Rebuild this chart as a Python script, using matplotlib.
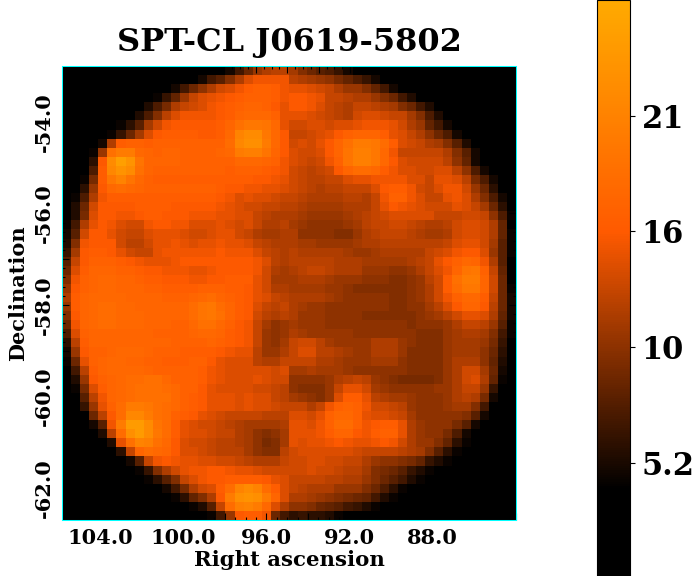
# temperature map of one cluster field with a hand built colormap

import matplotlib
matplotlib.use("Agg")
import matplotlib.pyplot as plt
from matplotlib.colors import LinearSegmentedColormap
import numpy as np

plt.rcParams["font.family"] = ["DejaVu Serif"]
plt.rcParams["font.weight"] = "bold"

title = "SPT-CL J0619-5802"
ra_ticks = [104.0, 100.0, 96.0, 92.0, 88.0]
dec_ticks = [-54.0, -56.0, -58.0, -60.0, -62.0]
cbar_ticks = [5.2, 10.4, 15.6, 20.8]
cbar_labels = ["5.2", "10", "16", "21"]
vmin, vmax = 0.1, 26.0

# first filled column of each row, the rest of the row stays at zero
row_start = [18, 15, 12, 10, 9, 8, 6, 5, 4, 3, 3, 3, 2, 2, 1, 1, 1, 0, 0, 0, 0, 0, 0, 0, 0,
             0, 0, 0, 0, 0, 0, 0, 0, 1, 1, 1, 2, 2, 3, 3, 4, 5, 6, 7, 8, 9, 11, 12, 14, 16]

row_values = [
    [5,7,9,11,12,12.5,12.5,11.5, 10,9,8,7.5,6.5,5],
    [5,7,8,10,12,14,15,15,15,15, 12.5,12,11.5,11,10.5,9.5,8.5,7.5,6.5,5],
    [5,7,9,10.5,12,13.5,14,15,16,16.5,16.5,16,15, 14.5,14.5,14,13.5,13,12,11,11,10,8.5,7,5],
    [4.5,6.5,8.5,11,13,14,14.5,15,15.5,16,16.5,16.5,16.5,16,15, 15.5,15.5,15,14.5,13,13,12.5,12,12,11,10,9,7,5.5],
    [5.5,7.5,9.5,12,13,13.5,14,15,15.5,16,16.5,17,17,16.5,15.5,14.5, 15.5,15.5,15,14,13,12.5,12,13,13,12.5,12,11.5,10,9,7,5.5],
    [5.5,7.5,10,12.5,14,15,15,15,15,15.5,16,17,17.5,17.5,17.5,16.5,14.5, 14.5,14.5,14,13.5,13,12.5,12,13.5,14,14,13.5,13,13,11.5,10,7.5,5.5],
    [4.5,6,8,11.5,13.5,15,15.5,15.5,15.5,15.5,15.5,16,17,18.5,19.5,19.5,19,17.5,14.5, 13.5,13.5,14,14,13.5,14,14,14.5,15,15,15,14.5,13.5,12,11,8.5,7,5],
    [4.5,6.5,9,11.5,14,15.5,16,16,16,16,15.5,15.5,16,17.5,21,22,22,19.5,17.5,15.5, 13,13,13.5,14,14.5,15.5,16.5,17,17,17,16,14.5,14,13,12,10.5,9,7.5,5],
    [5,12,16,16.5,16.5,16,16.5,16.5,16.5,16.5,16.5,16.5,16.5,16.5, 18,21.5,22.5,22.5,20,17.5,15.5, 13.5,14,13.5,14.5,15.5,17,18.5,20,20,19.5,18,16,14,13.5,13,12,11.5,10,8,5.5],
    [4.5,11,18.5,20,20,17.5,17,16.5,17,17,16.5,16.5,16.5,16.5,17, 17.5,20,20.5,20.5,19,17,15.5, 14,13.5,13.5,14,15.5,17,19,20.5,20.5,19.5,17.5,15,13,13,13,13,13,12,10,8,5],
    [6,15.5,22,24.5,23,19,17,17,17,17,16.5,16.5,16.5,16.5,16.5, 16.5,17.5,17.5,17.5,17,16.5,15, 14,13.5,13,13.5,15,16.5,19,20.5,20.5,19.5,17.5,15.5,14,13.5,13.5,13.5,13.5,12.5,10.5,8.5,5],
    [7.5,16,21.5,23,22,18.5,17,16.5,16.5,16.5,16.5,16.5,16.5,16.5,16.5, 16,16.5,16.5,16.5,16,15.5,15, 13.5,13,12.5,13,13.5,15.5,17,18,18,17.5,16,15,14,14,13.5,13.5,14,14,12.5,10.5,7.5,5],
    [4.5,9.5,16,19.5,21,19,17.5,16.5,16,16,16,16,16,16,16,16, 16,16,16,15.5,15.5,15,14.5, 13.5,13,12.5,12.5,13,13,14,14.5,14.5,15,15,15,15,14,14,13,14.5,14.5,14,12.5,9.5,7.5,5],
    [6,11,15.5,17.5,18,17.5,17,16.5,16.5,16.5,16.5,16.5,16.5,16.5,16.5,16, 15.5,15.5,15,15,14.5,14.5,14, 13.5,13,12.5,12,12.5,12.5,13,13,13,14,15.5,16,16,15,13.5,13,14,15,15,13.5,11,9,6],
    [4.5,7.5,12,15,16,16,16,16,16,16,16,16,16,16,16,16,15.5, 15,14,14.5,14,14,13.5,13, 13,12.5,12,12,12,12,12.5,12.5,12,13,15,16.5,16.5,15,14,13,13,14.5,15,14,12,10,7.5,5],
    [5.5,9,13.5,15.5,15.5,15.5,15.5,16,16,16,16,15.5,15.5,15.5,15.5,15.5,15, 14.5,14,13.5,13.5,13,13,12.5, 12.5,12,11.5,11.5,11.5,11.5,12,12,12,13,14.5,15.5,15,14.5,14,13.5,13.5,13.5,14.5,14,13,11.5,9,6],
    [5.5,9.5,14,15.5,15.5,15,15,15.5,16,16,15.5,15.5,15.5,15,15,15,14.5, 14.5,14,14,13,12.5,12,12, 12,11.5,11,11,11,11,11.5,12,12.5,13,13.5,14,14,14,14,14,13,13,13,13.5,13.5,13,10.5,7.5,4.5],
    [4.5,7,12,14.5,15.5,15,14,13.5,13.5,15,15.5,15.5,15,15,14,14,14,14.5,14,13.5,14,13,12,12,12.5, 11.5,11,10.5,10.5,10.5,10.5,11,11.5,12.5,13,13,13.5,13.5,13,12.5,12,12,12.5,13.5,14,14,13.5,12,8.5,4],
    [5,8,13.5,15.5,15.5,14.5,13.5,13,13,14,14.5,14.5,14.5,14,13.5,13.5,14,14.5,14.5,13.5,13,12,11.5,11.5,12, 12,10.5,10.5,10.5,10.5,10,10,11,12,12.5,13,13,13,12.5,12,11.5,11.5,12,13.5,14,14,13.5,12,8.5,4.5],
    [5.5,10,15,15.5,15.5,15.5,13.5,12.5,12.5,13.5,14.5,14.5,15,14.5,14,14.5,14.5,15,14.5,14.5,14,13,12.5,12,12, 12,11.5,11.5,11,11,11,11,11.5,12,12,12.5,12.5,12.5,12.5,12.5,12.5,12.5,13,14,14.5,14.5,13.5,11.5,8,4.5],
    [6.5,11.5,15.5,16,16,15.5,14.5,13.5,13,13,14.5,15,15,15,15,15,15,15.5,15,15,15,14,13,12.5,12, 12.5,12,12,12,12,12,11.5,11,11,11.5,12,12,12,12,12,13,13.5,14,15,15.5,15.5,14,11,8,4.5],
    [8,13,15.5,16.5,16.5,16.5,16,15.5,15,14.5,14.5,14.5,15,15.5,15.5,15.5,15.5,15.5,15.5,15.5,15.5,15,14,12.5,12, 12.5,12.5,12.5,12.5,12.5,12,12,12,11.5,11.5,11.5,11.5,11.5,12,12.5,13,14.5,15.5,16.5,17.5,17,15,12,8,4],
    [9,14,16,17,17,17,16.5,16.5,16,15.5,15.5,15,15,15,14.5,14.5,15,15.5,15.5,15.5,15.5,15,13.5,12,11.5, 12,12.5,13,13,12.5,12,12,12,11,11,11,10.5,10.5,11,12,13,14,15,17,19,19.5,16.5,13,8.5,4],
    [10,15,16.5,17,17.5,17.5,17,17,16.5,16,16,15.5,15.5,15.5,15,15,15.5,15.5,16,16,16,14.5,13.5,11.5,11.5, 11.5,12,12,12,11.5,11,11,11,10.5,10.5,10.5,10,10,10.5,11,12.5,13.5,16,18.5,20,20,17,13.5,9,4],
    [11,15.5,16.5,17,17.5,17.5,17,17,17,16.5,16.5,16,16,16,16,16.5,16.5,16.5,16,16,15.5,14.5,13.5,12,12, 11.5,11.5,11.5,11.5,11,11,10.5,10,10,10,10,10,10,10.5,11,12,13.5,16,18,19.5,19.5,17,13.5,9,4.5],
    [12,16,17,17.5,17.5,17.5,17.5,17,17,17,17,16.5,16.5,16.5,17,17.5,18,17,16.5,16,15.5,14.5,14,13,12.5, 12,12,12,12,11.5,11,10.5,10.5,10.5,10.5,10.5,10,10,10.5,11,12,13.5,15,16.5,17.5,17.5,16,13,9,5],
    [11,16,17,17.5,18,18,17.5,17.5,17,17,17,17,17,17,18,19,19.5,18,17,16,15.5,14,13,12.5,13, 12,11.5,11,11,10.5,10.5,10.5,10.5,10.5,10.5,10.5,10,10,10.5,10.5,11.5,12.5,14,15.5,17,17,15.5,12.5,9,5],
    [10,15.5,17,17.5,18,18,17.5,17.5,17.5,17,17,17,17,17,18,19,19.5,18.5,17,16,15.5,13.5,12.5,12,12.5, 12,11,11,11,10.5,10.5,10.5,10.5,10,10,10,10,10,10,10.5,11,11.5,12.5,13.5,14.5,14.5,14,12,8.5,5],
    [9,15,17,17.5,18,18,17.5,17.5,17.5,17,17,17,16.5,16.5,17.5,18.5,18.5,17.5,16.5,15.5,15,13,11.5,10.5,11, 11.5,11,11,11,10.5,10.5,10.5,10.5,10.5,10.5,10.5,10.5,10.5,10,10.5,10.5,10.5,11,12,13,13,12.5,11,8,4.5],
    [7.5,14,16.5,17,17,17,17,17,17,17,16.5,16.5,16.5,16.5,17,17.5,17.5,17,16,15.5,15,13,11,10.5,11, 12,11.5,11,11,11,11,11,10.5,10.5,10.5,10.5,10.5,10.5,10.5,10,10,10,11,11.5,12,12,11.5,10,7,4.5],
    [6,12.5,16,17,17,17,17,17,17,17,17,17,16.5,16.5,16.5,16.5,17,16.5,16,15.5,15,13,11,10.5,11.5, 13,13.5,13.5,12.5,11.5,11,11,11,11,12,12,12,11,10.5,10,10,10,11,11.5,11.5,11.5,11,9.5,6.5,4],
    [5,11,15.5,16.5,16.5,17,17.5,17.5,17.5,17,16.5,16.5,16.5,16,16,16,16,15.5,15,14.5,14.5,12.5,11,11,12, 13,14,14,12.5,12.5,12,11.5,11,11,12,12,12,11,10,10,10,10,11,11.5,11.5,11.5,10.5,9,6,4],
    [4.5,9,14.5,16.5,17,17.5,17.5,17,17,16.5,16.5,16,16,16,16.5,16.5,15.5,14.5,14,14,14,12.5,12,12,13, 13,13,13,12,12,11.5,11,11,11,11.5,11.5,11.5,10.5,10,10,10,10,11,12,12,12,10.5,8.5,5.5,4],
    [7,12.5,16,17,17.5,17.5,17.5,17.5,17,16.5,16.5,16.5,16.5,16.5,16,15,14.5,14,14,14,14,14,13.5,14, 11.5,11.5,12,11.5,11.5,11.5,11,10.5,10.5,10.5,10.5,10.5,10.5,10,10,10,10,11,12,13.5,13.5,11.5,9,5],
    [5.5,11,15.5,16.5,17,17.5,18,18,18.5,18.5,17.5,16.5,16.5,16.5,16,15,14.5,14,14,14,14.5,14,13.5,13.5, 10.5,10.5,10.5,10.5,11,12,12.5,13,12.5,11,10.5,10,9.5,9.5,9.5,9.5,10,11,12,13.5,14,12,8.5,4.5],
    [4.5,9.5,14,16,17,17.5,18,18.5,18.5,18.5,18,17.5,16.5,16.5,15.5,14.5,14,14,14,14,13.5,13.5,13,12.5, 10.5,10,10,10,11,13,14.5,14.5,13.5,11.5,11,10.5,10.5,10.5,10.5,10.5,11,11,12,13,13,11,6.5],
    [8,12.5,15,17,17.5,18,18.5,18.5,18.5,18.5,17.5,16.5,16,15.5,14.5,14.5,14.5,14,14.5,14,14,13,12.5, 11.5,11,10.5,10,11,14,16,16,14.5,12.5,12,11.5,11.5,11,10.5,10.5,10.5,11,12,12.5,12,9.5,5],
    [6.5,11,14.5,16.5,18,20,20,19.5,18.5,18,17.5,16.5,16,15.5,14.5,14.5,14.5,14,14.5,14,14,13.5,13, 13,13,12,13,15,16.5,17,16.5,15,13.5,13.5,13,12.5,11,10.5,10.5,10.5,11,11.5,11.5,10,7],
    [9,12.5,15.5,18,21.5,21.5,20,18.5,18,16.5,16,15.5,14.5,14,13.5,13,13,13,13,12.5,12.5,12.5, 14,14,13.5,14.5,16.5,17.5,17.5,16.5,14.5,14,14,13.5,13,11.5,10.5,10.5,10.5,10.5,10.5,10,8,5],
    [5,8,15,20,24,24,22,19,18,16,14.5,14,13.5,13.5,13,12.5,12,11.5,11.5,11.5,11.5,12, 14.5,14.5,14,15,16.5,18,18,16.5,15,15.5,16,16,14.5,12,11,10.5,10.5,10.5,9.5,8,5],
    [5.5,12.5,18,22.5,24,22,19.5,18,16,14.5,14,14,13.5,13,13,12,11.5,10.5,10,10.5,11.5, 14.5,14.5,14.5,15,16,17,17,15.5,15,16,16.5,16.5,14.5,12,11,10.5,10.5,9.5,7.5,5],
    [5.5,14.5,18.5,21,20.5,18.5,17.5,15.5,14,13.5,13.5,13,12.5,12.5,12,11.5,10.5,9.5,10,11.5, 14.5,14,14.5,14.5,15,15.5,15,14.5,14.5,15,15.5,15,13.5,12,11,11,10,8.5,6,4.5],
    [6,13,17,18,17.5,17,15.5,14,14,13.5,13,12.5,12.5,12.5,11.5,10.5,10,10,12.5, 13.5,14,14,14,14,14,14,13.5,13,13,13,13,12.5,12,11.5,10,8,6,4.5],
    [5,8,13,15,15.5,15,14.5,14.5,14,14,13.5,13.5,13,12.5,12,12,12,13, 13.5,13.5,14,14,13.5,13.5,13,13,12,11,10.5,10.5,10,9.5,8.5,6.5,5.5,4.5],
    [4.5,6.5,10,12,13.5,14.5,15,15,15.5,15.5,15,14.5,14.5,14,13.5,13.5,13.5, 13.5,13.5,14,13.5,13.5,13,12.5,12.5,11.5,10,9.5,9,8,6.5,5.5,4.5],
    [4.5,6,8,10,13,14,15,15.5,15.5,16,16,16,16,15.5,14.5,14, 13,13,13,13,12.5,12.5,12,12,11,10,9,8,7,5.5,4.5],
    [5,7,9.5,12,13.5,14,16,18,21,22,21,18,16,14, 13,12.5,12,12,12,11,11,11,10,9,7.5,6,4.5],
    [4.5,6,8.5,10,12,15.5,20,22.5,23,22.5,20,17,14, 12,12,11.5,11,10.5,10,9.5,9,8.5,7,5.5,4.5],
    [4.5,5.5,8,13,18,20.5,21,20,17.5,14,12, 10.5,10.5,10,9,8.5,8,7,6.5,5.5,4.5],
    [4.5,7,11,15.5,16,16,15,9,7, 6,6.5,6,6,5.5,4.5],
]

# colour stops
cmap_values = [0.1, 4.0, 15.6, 26.0]
cmap_colors = ["#000000", "#000000", "#ff5a00", "#ffaa00"]


def build_map():
    grid = np.zeros((50, 50))
    for idx, values in enumerate(row_values):
        grid[idx, row_start[idx]:row_start[idx] + len(values)] = values
    return grid


def main():
    nodes = [(v - vmin) / (vmax - vmin) for v in cmap_values]
    cmap = LinearSegmentedColormap.from_list("cluster", list(zip(nodes, cmap_colors)))

    fig = plt.figure(figsize=(6.98, 5.76), dpi=100)
    ax = fig.add_axes([62 / 698, 1 - 520 / 576, 454 / 698, 454 / 576])
    extent = (105.83, 84.0, -62.7, -52.78)
    im = ax.imshow(build_map(), cmap=cmap, vmin=vmin, vmax=vmax, extent=extent,
                   aspect="auto", interpolation="nearest")

    for spine in ax.spines.values():
        spine.set_color("cyan")
        spine.set_linewidth(0.75)

    ax.set_xticks(ra_ticks)
    ax.set_xticklabels(["%.1f" % v for v in ra_ticks])
    ax.set_yticks(dec_ticks)
    ax.set_yticklabels(["%.1f" % v for v in dec_ticks], rotation=90, va="center")
    ax.tick_params(axis="both", which="major", labelsize=15, length=0, pad=6)

    # the small tick marks sit inside the frame, most of them hidden on the black
    bottom = ax.secondary_xaxis("bottom")
    bottom.set_xticks(np.arange(84, 106, 2.0))
    bottom.set_xticks(np.arange(84, 106, 0.5), minor=True)
    bottom.set_xticklabels([])
    top = ax.secondary_xaxis("top")
    top.set_xticks(95 + np.arange(-16, 17, 2.0) * 20.8 / 27.5)
    top.set_xticks(95 + np.arange(-16, 17, 0.5) * 20.8 / 27.5, minor=True)
    top.set_xticklabels([])
    left = ax.secondary_yaxis("left")
    right = ax.secondary_yaxis("right")
    for side in (left, right):
        side.set_yticks(np.arange(-63, -52, 1.0))
        side.set_yticks(np.arange(-63, -52.7, 0.2), minor=True)
        side.set_yticklabels([])
    for side in (bottom, top, left, right):
        side.tick_params(which="major", direction="in", length=5, width=0.8, color="black")
        side.tick_params(which="minor", direction="in", length=2.5, width=0.8, color="black")
        for spine in side.spines.values():
            spine.set_visible(False)

    ax.set_title(title, fontsize=23, fontweight="bold", pad=11)
    ax.set_xlabel("Right ascension", fontsize=15.3, fontweight="bold", labelpad=1)
    ax.set_ylabel("Declination", fontsize=15, fontweight="bold", labelpad=4)

    cax = fig.add_axes([597 / 698, 0, 33 / 698, 1])
    cbar = fig.colorbar(im, cax=cax)
    cbar.set_ticks(cbar_ticks)
    cbar.set_ticklabels(cbar_labels)
    cbar.ax.tick_params(labelsize=22, length=3.5, width=0.8, pad=5)

    fig.savefig("out.png", dpi=100)


if __name__ == "__main__":
    main()
